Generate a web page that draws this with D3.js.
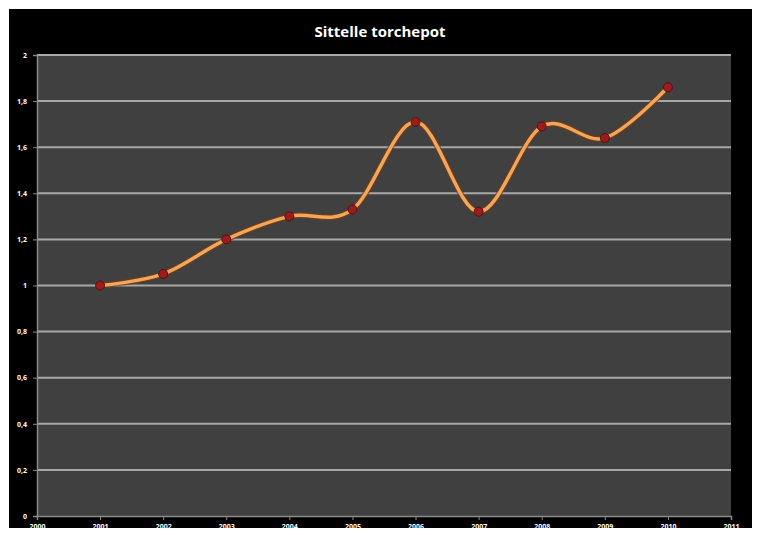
<!DOCTYPE html>
<html>
<head>
<meta charset="utf-8">
<script src="https://cdn.jsdelivr.net/npm/d3@7"></script>
<style>
  body { margin: 0; background: #fff; }
  svg { display: block; }
</style>
</head>
<body>
<svg id="chart" width="758" height="535"></svg>
<script>
const years = [2001, 2002, 2003, 2004, 2005, 2006, 2007, 2008, 2009, 2010];
const values = [1.0, 1.05, 1.2, 1.3, 1.33, 1.71, 1.32, 1.69, 1.64, 1.86];
const xTicks = [2000, 2001, 2002, 2003, 2004, 2005, 2006, 2007, 2008, 2009, 2010, 2011];
const yTicks = [0, 0.2, 0.4, 0.6, 0.8, 1, 1.2, 1.4, 1.6, 1.8, 2];
const title = "Sittelle torchepot";

const svg = d3.select("#chart");
const margin = { top: 55, right: 27, bottom: 19, left: 37 };
const width = 758 - margin.left - margin.right;
const height = 535 - margin.top - margin.bottom;

// black frame
svg.append("rect")
  .attr("x", 9).attr("y", 9)
  .attr("width", 743).attr("height", 519)
  .attr("fill", "#000");

svg.append("text")
  .attr("x", 380)
  .attr("y", 37)
  .attr("text-anchor", "middle")
  .attr("font-family", "Open Sans, sans-serif")
  .attr("font-weight", "bold")
  .attr("font-size", "15px")
  .attr("fill", "#fff")
  .text(title);

const g = svg.append("g")
  .attr("transform", `translate(${margin.left},${margin.top})`);

const x = d3.scaleLinear().domain([2000, 2011]).range([0, width]);
const y = d3.scaleLinear().domain([0, 2]).range([height, 0]);

g.append("rect")
  .attr("width", width).attr("height", height)
  .attr("fill", "#404040");

// gridlines
g.selectAll(".grid")
  .data(yTicks.filter(d => d > 0))
  .enter().append("line")
  .attr("x1", 0).attr("x2", width)
  .attr("y1", d => y(d)).attr("y2", d => y(d))
  .attr("stroke", "#a8a8a8")
  .attr("stroke-width", 2);

const fmt = d => d3.format("~g")(d).replace(".", ",");

const yAxis = g.append("g")
  .call(d3.axisLeft(y).tickValues(yTicks).tickFormat(fmt).tickSize(4).tickPadding(6));
const xAxis = g.append("g")
  .attr("transform", `translate(0,${height})`)
  .call(d3.axisBottom(x).tickValues(xTicks).tickFormat(d3.format("d")).tickSize(4).tickPadding(4));

[xAxis, yAxis].forEach(a => {
  a.select(".domain").attr("stroke", "#8a8a8a").attr("stroke-width", 1.5);
  a.selectAll(".tick line").attr("stroke", "#8a8a8a");
  a.selectAll(".tick text")
    .attr("fill", "#fff")
    .attr("font-family", "Open Sans, sans-serif")
    .attr("font-weight", "bold")
    .attr("font-size", "7px");
});

const pts = years.map((yr, i) => ({ year: yr, value: values[i] }));
const line = d3.line()
  .x(d => x(d.year))
  .y(d => y(d.value))
  .curve(d3.curveCardinal.tension(0));

g.append("path")
  .datum(pts)
  .attr("d", line)
  .attr("fill", "none")
  .attr("stroke", "#7a3a10")
  .attr("stroke-width", 6)
  .attr("stroke-opacity", 0.7);

g.append("path")
  .datum(pts)
  .attr("d", line)
  .attr("fill", "none")
  .attr("stroke", "#f2a65a")
  .attr("stroke-width", 3.5);

g.selectAll(".dot")
  .data(pts)
  .enter().append("circle")
  .attr("cx", d => x(d.year))
  .attr("cy", d => y(d.value))
  .attr("r", 4.5)
  .attr("fill", "#9b1c1c")
  .attr("stroke", "#5a0d0d")
  .attr("stroke-width", 1);
</script>
</body>
</html>
